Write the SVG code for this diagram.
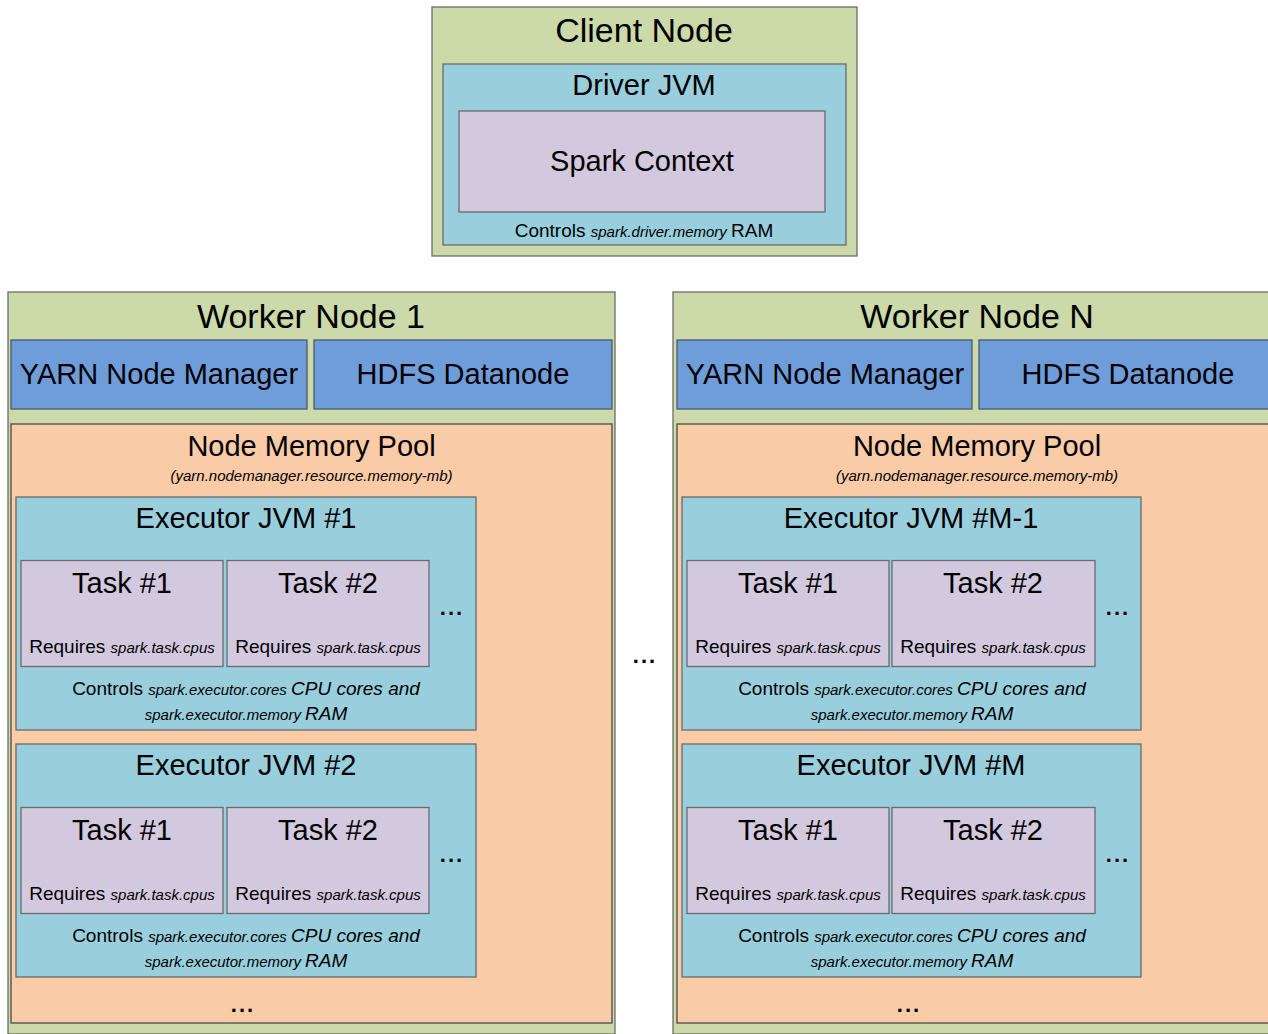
<svg xmlns="http://www.w3.org/2000/svg" width="1268" height="1034" viewBox="0 0 1268 1034">
<style>
text{font-family:"Liberation Sans",Arial,sans-serif;fill:#000;text-anchor:middle}
.t34{font-size:34px}
.t29{font-size:29px}
.r19{font-size:19px}
.i15{font-size:15px;font-style:italic}
.i19{font-size:19px;font-style:italic}
.dots{font-size:22px;font-weight:bold;letter-spacing:2px}
.green{fill:#cbdaa8;stroke:#6b6b6b;stroke-width:1.3}
.teal{fill:#99cfdd;stroke:#6b6b6b;stroke-width:1.3}
.lav{fill:#d3c9de;stroke:#6b6b6b;stroke-width:1.3}
.blue{fill:#6e9dda;stroke:#4a5a6a;stroke-width:1.3}
.orange{fill:#f9cba7;stroke:#4a4a4a;stroke-width:1.3}
</style>
<rect width="1268" height="1034" fill="#fff"/>

<g id="client-node">
<rect class="green" x="432" y="7" width="425" height="249"/>
<text class="t34" x="644" y="42">Client Node</text>
<g id="driver-jvm">
<rect class="teal" x="443" y="64" width="403" height="181"/>
<text class="t29" x="644" y="95">Driver JVM</text>
<text x="644" y="237"><tspan class="r19">Controls </tspan><tspan class="i15">spark.driver.memory </tspan><tspan class="r19">RAM</tspan></text>
</g>
<g id="spark-context">
<rect class="lav" x="459" y="111" width="366" height="101"/>
<text class="t29" x="642" y="170.5">Spark Context</text>
</g>
</g>

<g id="worker-node-1">
<rect class="green" x="8" y="292" width="607" height="742"/>
<text class="t34" x="311" y="328">Worker Node 1</text>
<g id="w1-yarn">
<rect class="blue" x="11" y="340" width="296" height="69"/>
<text class="t29" x="159" y="384">YARN Node Manager</text>
</g>
<g id="w1-hdfs">
<rect class="blue" x="314" y="340" width="298" height="69"/>
<text class="t29" x="463" y="384">HDFS Datanode</text>
</g>
<g id="w1-pool">
<rect class="orange" x="11" y="424" width="601" height="599"/>
<text class="t29" x="311.5" y="456">Node Memory Pool</text>
<text class="i15" x="311.5" y="481">(yarn.nodemanager.resource.memory-mb)</text>
<text class="dots" x="243" y="1012">...</text>
</g>
<g id="w1-exec1">
<rect class="teal" x="16" y="497" width="460" height="233"/>
<text class="t29" x="246" y="527.5">Executor JVM #1</text>
<text class="dots" x="452" y="615">...</text>
<text x="246" y="694.5"><tspan class="r19">Controls </tspan><tspan class="i15">spark.executor.cores </tspan><tspan class="i19">CPU cores and</tspan></text>
<text x="246" y="720"><tspan class="i15">spark.executor.memory </tspan><tspan class="i19">RAM</tspan></text>
</g>
<g id="w1-exec1-task1">
<rect class="lav" x="21" y="560.5" width="202" height="106"/>
<text class="t29" x="122" y="593">Task #1</text>
<text x="122" y="653"><tspan class="r19">Requires </tspan><tspan class="i15">spark.task.cpus</tspan></text>
</g>
<g id="w1-exec1-task2">
<rect class="lav" x="227" y="560.5" width="202" height="106"/>
<text class="t29" x="328" y="593">Task #2</text>
<text x="328" y="653"><tspan class="r19">Requires </tspan><tspan class="i15">spark.task.cpus</tspan></text>
</g>
<g id="w1-exec2">
<rect class="teal" x="16" y="744" width="460" height="233"/>
<text class="t29" x="246" y="774.5">Executor JVM #2</text>
<text class="dots" x="452" y="862">...</text>
<text x="246" y="941.5"><tspan class="r19">Controls </tspan><tspan class="i15">spark.executor.cores </tspan><tspan class="i19">CPU cores and</tspan></text>
<text x="246" y="967"><tspan class="i15">spark.executor.memory </tspan><tspan class="i19">RAM</tspan></text>
</g>
<g id="w1-exec2-task1">
<rect class="lav" x="21" y="807.5" width="202" height="106"/>
<text class="t29" x="122" y="840">Task #1</text>
<text x="122" y="900"><tspan class="r19">Requires </tspan><tspan class="i15">spark.task.cpus</tspan></text>
</g>
<g id="w1-exec2-task2">
<rect class="lav" x="227" y="807.5" width="202" height="106"/>
<text class="t29" x="328" y="840">Task #2</text>
<text x="328" y="900"><tspan class="r19">Requires </tspan><tspan class="i15">spark.task.cpus</tspan></text>
</g>
</g>

<g id="between-workers">
<text class="dots" x="645" y="663">...</text>
</g>

<g id="worker-node-n" transform="translate(666,0)">
<rect class="green" x="7" y="292" width="607" height="742"/>
<text class="t34" x="311" y="328">Worker Node N</text>
<g id="wn-yarn">
<rect class="blue" x="11" y="340" width="295" height="69"/>
<text class="t29" x="159" y="384">YARN Node Manager</text>
</g>
<g id="wn-hdfs">
<rect class="blue" x="313" y="340" width="298" height="69"/>
<text class="t29" x="462" y="384">HDFS Datanode</text>
</g>
<g id="wn-pool">
<rect class="orange" x="11" y="424" width="601" height="599"/>
<text class="t29" x="311" y="456">Node Memory Pool</text>
<text class="i15" x="311" y="481">(yarn.nodemanager.resource.memory-mb)</text>
<text class="dots" x="243" y="1012">...</text>
</g>
<g id="wn-exec1">
<rect class="teal" x="16" y="497" width="459" height="233"/>
<text class="t29" x="245" y="527.5">Executor JVM #M-1</text>
<text class="dots" x="452" y="615">...</text>
<text x="246" y="694.5"><tspan class="r19">Controls </tspan><tspan class="i15">spark.executor.cores </tspan><tspan class="i19">CPU cores and</tspan></text>
<text x="246" y="720"><tspan class="i15">spark.executor.memory </tspan><tspan class="i19">RAM</tspan></text>
</g>
<g id="wn-exec1-task1">
<rect class="lav" x="21" y="560.5" width="202" height="106"/>
<text class="t29" x="122" y="593">Task #1</text>
<text x="122" y="653"><tspan class="r19">Requires </tspan><tspan class="i15">spark.task.cpus</tspan></text>
</g>
<g id="wn-exec1-task2">
<rect class="lav" x="226" y="560.5" width="203" height="106"/>
<text class="t29" x="327" y="593">Task #2</text>
<text x="327" y="653"><tspan class="r19">Requires </tspan><tspan class="i15">spark.task.cpus</tspan></text>
</g>
<g id="wn-exec2">
<rect class="teal" x="16" y="744" width="459" height="233"/>
<text class="t29" x="245" y="774.5">Executor JVM #M</text>
<text class="dots" x="452" y="862">...</text>
<text x="246" y="941.5"><tspan class="r19">Controls </tspan><tspan class="i15">spark.executor.cores </tspan><tspan class="i19">CPU cores and</tspan></text>
<text x="246" y="967"><tspan class="i15">spark.executor.memory </tspan><tspan class="i19">RAM</tspan></text>
</g>
<g id="wn-exec2-task1">
<rect class="lav" x="21" y="807.5" width="202" height="106"/>
<text class="t29" x="122" y="840">Task #1</text>
<text x="122" y="900"><tspan class="r19">Requires </tspan><tspan class="i15">spark.task.cpus</tspan></text>
</g>
<g id="wn-exec2-task2">
<rect class="lav" x="226" y="807.5" width="203" height="106"/>
<text class="t29" x="327" y="840">Task #2</text>
<text x="327" y="900"><tspan class="r19">Requires </tspan><tspan class="i15">spark.task.cpus</tspan></text>
</g>
</g>

<g id="connectors"></g>
</svg>
